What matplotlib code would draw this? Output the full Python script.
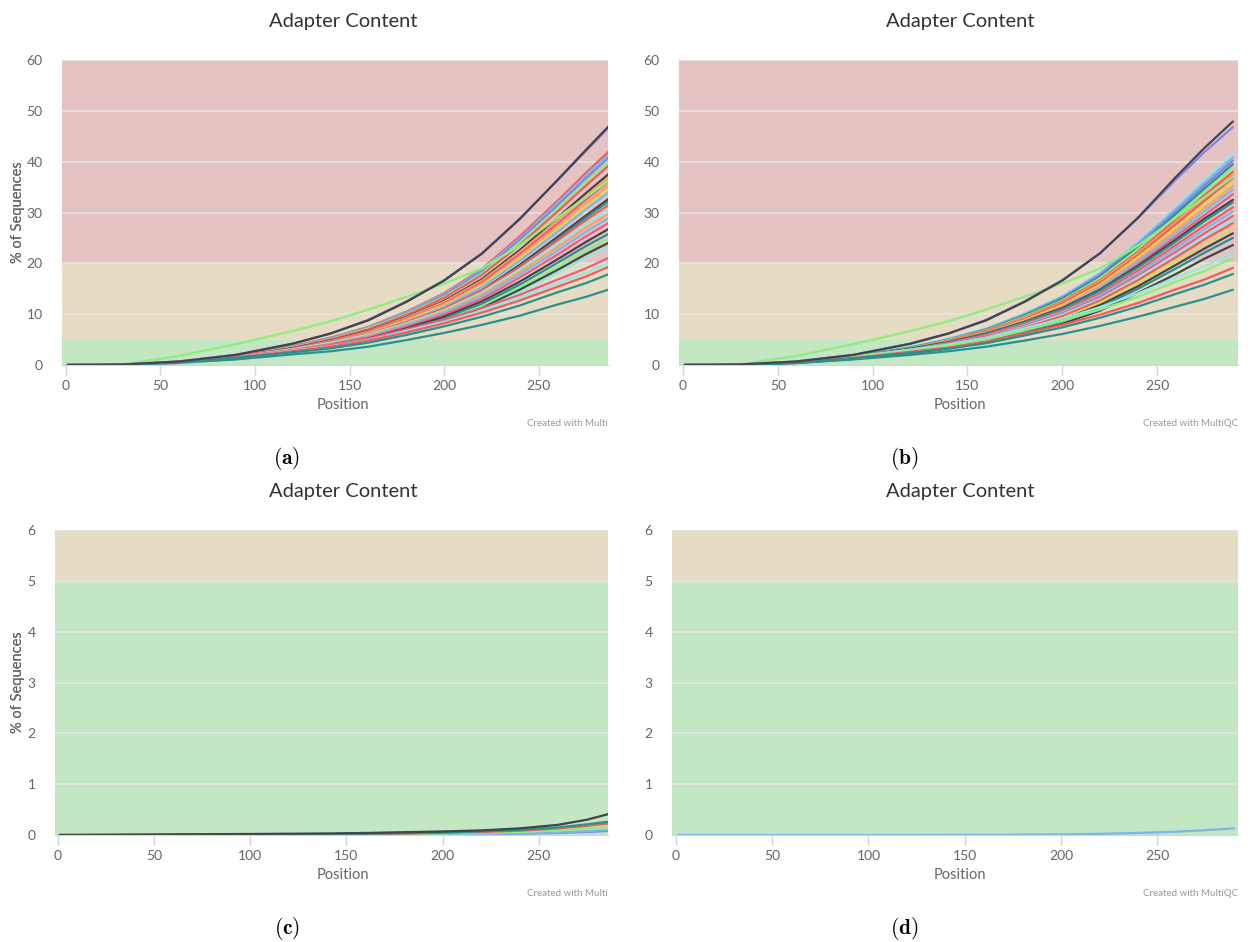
import matplotlib
matplotlib.use("Agg")
import matplotlib.pyplot as plt

plt.rcParams["font.family"] = ["Lato", "DejaVu Sans"]
plt.rcParams["mathtext.fontset"] = "cm"

BLUE = "#7cb5ec"
DARK = "#434348"
GREEN = "#90ed7d"
ORANGE = "#f7a35c"
PURPLE = "#8085e9"
PINK = "#f15c80"
YELLOW = "#e4d354"
TEAL = "#2b908f"
RED = "#f45b5b"
CYAN = "#91e8e1"

positions = [1, 30, 60, 90, 120, 140, 160, 180, 200, 220, 240, 260, 275, 290]

# panel (a) - % of sequences with adapter, one row per sample
a_colors = [RED, BLUE, PURPLE, GREEN, RED, DARK, ORANGE, PINK, ORANGE, YELLOW,
            BLUE, DARK, TEAL, RED, CYAN, ORANGE, BLUE, PINK, DARK, TEAL, GREEN,
            DARK, CYAN, PINK, CYAN, RED, TEAL, TEAL, GREEN, PURPLE, DARK]
a_values = [
    [0, 0.09, 0.6, 1.8, 3.7, 5.4, 7.5, 10.5, 14.1, 18.9, 25.3, 32.3, 37.8, 43.0],
    [0, 0.08, 0.6, 1.8, 3.6, 5.3, 7.4, 10.4, 13.9, 18.7, 24.9, 31.9, 37.3, 42.4],
    [0, 0.08, 0.6, 1.8, 3.6, 5.2, 7.3, 10.2, 13.7, 18.4, 24.6, 31.4, 36.7, 41.8],
    [0, 0.08, 0.6, 1.7, 3.5, 5.1, 7.2, 10.0, 13.4, 18.0, 24.1, 30.8, 36.0, 41.0],
    [0, 0.08, 0.6, 1.7, 3.4, 5.0, 7.0, 9.8, 13.2, 17.7, 23.6, 30.2, 35.3, 40.2],
    [0, 0.08, 0.6, 1.6, 3.3, 4.8, 6.7, 9.4, 12.6, 16.9, 22.6, 29.0, 33.8, 38.5],
    [0, 0.08, 0.6, 1.6, 3.2, 4.7, 6.6, 9.3, 12.4, 16.6, 22.2, 28.4, 33.2, 37.8],
    [0, 0.07, 0.6, 1.6, 3.1, 4.6, 6.5, 9.1, 12.1, 16.3, 21.8, 27.8, 32.5, 37.0],
    [0, 0.07, 0.5, 1.5, 3.1, 4.5, 6.3, 8.9, 11.9, 15.9, 21.3, 27.2, 31.8, 36.2],
    [0, 0.07, 0.5, 1.5, 3.0, 4.4, 6.2, 8.7, 11.6, 15.6, 20.9, 26.7, 31.2, 35.5],
    [0, 0.07, 0.5, 1.5, 3.0, 4.4, 6.1, 8.5, 11.4, 15.3, 20.5, 26.2, 30.6, 34.8],
    [0, 0.07, 0.5, 1.4, 2.8, 4.2, 5.9, 8.2, 11.0, 14.7, 19.7, 25.2, 29.4, 33.5],
    [0, 0.07, 0.5, 1.4, 2.8, 4.1, 5.8, 8.1, 10.8, 14.5, 19.4, 24.8, 29.0, 33.0],
    [0, 0.06, 0.6, 1.6, 3.2, 4.5, 6.1, 8.4, 11.1, 14.7, 19.3, 24.5, 28.5, 32.2],
    [0, 0.06, 0.6, 1.6, 3.1, 4.4, 6.0, 8.2, 10.8, 14.3, 18.8, 23.9, 27.8, 31.4],
    [0, 0.06, 0.5, 1.5, 3.0, 4.2, 5.8, 8.0, 10.5, 13.9, 18.3, 23.2, 27.0, 30.5],
    [0, 0.06, 0.5, 1.5, 2.9, 4.1, 5.6, 7.8, 10.2, 13.5, 17.8, 22.5, 26.2, 29.6],
    [0, 0.06, 0.5, 1.4, 2.8, 4.0, 5.4, 7.5, 9.9, 13.0, 17.2, 21.7, 25.3, 28.6],
    [0, 0.05, 0.5, 1.4, 2.7, 3.8, 5.2, 7.2, 9.5, 12.5, 16.4, 20.8, 24.2, 27.4],
    [0, 0.05, 0.5, 1.3, 2.6, 3.7, 5.0, 6.9, 9.1, 12.0, 15.8, 20.1, 23.4, 26.4],
    [0, 0.05, 0.5, 1.3, 2.5, 3.5, 4.8, 6.7, 8.8, 11.6, 15.2, 19.3, 22.5, 25.4],
    [0, 0.05, 0.4, 1.2, 2.4, 3.4, 4.7, 6.4, 8.5, 11.2, 14.8, 18.7, 21.8, 24.6],
    [0, 0.05, 0.4, 1.2, 2.3, 3.3, 4.5, 6.2, 8.2, 10.8, 14.3, 18.1, 21.1, 23.8],
    [0, 0.04, 0.6, 1.6, 2.9, 3.9, 5.2, 7.0, 8.9, 11.2, 13.8, 16.8, 19.0, 21.6],
    [0, 0.04, 0.6, 1.5, 2.8, 3.7, 4.9, 6.7, 8.5, 10.7, 13.2, 16.1, 18.1, 20.6],
    [0, 0.04, 0.6, 1.5, 2.7, 3.6, 4.8, 6.4, 8.2, 10.3, 12.7, 15.4, 17.4, 19.8],
    [0, 0.04, 0.5, 1.4, 2.5, 3.3, 4.4, 5.9, 7.6, 9.5, 11.7, 14.3, 16.1, 18.3],
    [0, 0.03, 0.5, 1.1, 2.1, 2.7, 3.6, 4.9, 6.3, 7.9, 9.7, 11.9, 13.4, 15.2],
    [0, 0.1, 1.8, 4.1, 6.7, 8.6, 10.9, 13.4, 16.0, 19.0, 23.5, 29.0, 33.0, 37.0],
    [0, 0.1, 0.7, 2.0, 4.2, 6.2, 8.9, 12.5, 16.7, 22.0, 28.8, 36.3, 42.1, 47.8],
    [0, 0.1, 0.7, 2.0, 4.2, 6.2, 8.8, 12.4, 16.6, 21.9, 28.7, 36.4, 42.3, 48.1],
]

# panel (b)
b_colors = [CYAN, BLUE, PURPLE, TEAL, GREEN, RED, ORANGE, RED, YELLOW, ORANGE,
            BLUE, PINK, DARK, TEAL, RED, BLUE, PINK, CYAN, RED, YELLOW, DARK,
            TEAL, DARK, CYAN, GREEN, RED, TEAL, TEAL, GREEN, PURPLE, DARK]
b_values = [
    [0, 0.08, 0.6, 1.7, 3.5, 5.2, 7.2, 10.1, 13.6, 18.2, 24.3, 31.1, 36.4, 41.4],
    [0, 0.08, 0.6, 1.7, 3.5, 5.1, 7.1, 10.0, 13.4, 18.0, 24.0, 30.7, 35.9, 40.8],
    [0, 0.08, 0.6, 1.7, 3.4, 5.0, 7.0, 9.8, 13.2, 17.7, 23.6, 30.2, 35.3, 40.2],
    [0, 0.08, 0.6, 1.7, 3.4, 4.9, 6.9, 9.7, 13.0, 17.4, 23.2, 29.7, 34.7, 39.5],
    [0, 0.08, 0.6, 1.6, 3.3, 4.9, 6.8, 9.5, 12.7, 17.1, 22.8, 29.2, 34.1, 38.8],
    [0, 0.08, 0.6, 1.6, 3.2, 4.8, 6.7, 9.3, 12.5, 16.7, 22.3, 28.6, 33.4, 38.0],
    [0, 0.07, 0.6, 1.6, 3.2, 4.7, 6.5, 9.2, 12.3, 16.5, 22.0, 28.1, 32.9, 37.4],
    [0, 0.07, 0.6, 1.5, 3.1, 4.6, 6.4, 9.0, 12.1, 16.2, 21.6, 27.7, 32.3, 36.8],
    [0, 0.07, 0.5, 1.5, 3.1, 4.5, 6.3, 8.8, 11.8, 15.8, 21.2, 27.1, 31.6, 36.0],
    [0, 0.07, 0.5, 1.5, 3.0, 4.4, 6.2, 8.6, 11.5, 15.5, 20.7, 26.5, 30.9, 35.2],
    [0, 0.07, 0.5, 1.4, 2.9, 4.3, 6.0, 8.5, 11.3, 15.2, 20.3, 25.9, 30.3, 34.5],
    [0, 0.07, 0.5, 1.4, 2.9, 4.2, 5.9, 8.2, 11.0, 14.8, 19.8, 25.3, 29.5, 33.6],
    [0, 0.07, 0.6, 1.6, 3.2, 4.5, 6.2, 8.5, 11.2, 14.8, 19.5, 24.7, 28.8, 32.5],
    [0, 0.06, 0.6, 1.6, 3.1, 4.4, 6.1, 8.4, 11.0, 14.6, 19.2, 24.3, 28.3, 32.0],
    [0, 0.06, 0.6, 1.6, 3.0, 4.3, 5.9, 8.1, 10.7, 14.1, 18.6, 23.6, 27.4, 31.0],
    [0, 0.06, 0.5, 1.5, 3.0, 4.2, 5.7, 7.9, 10.4, 13.7, 18.1, 23.0, 26.7, 30.2],
    [0, 0.06, 0.5, 1.5, 2.9, 4.1, 5.6, 7.7, 10.1, 13.3, 17.6, 22.3, 25.9, 29.3],
    [0, 0.06, 0.5, 1.4, 2.8, 4.0, 5.4, 7.5, 9.9, 13.0, 17.2, 21.7, 25.3, 28.6],
    [0, 0.06, 0.5, 1.4, 2.7, 3.9, 5.3, 7.3, 9.6, 12.7, 16.7, 21.2, 24.7, 27.9],
    [0, 0.05, 0.5, 1.3, 2.6, 3.7, 5.1, 7.0, 9.2, 12.2, 16.1, 20.4, 23.7, 26.8],
    [0, 0.05, 0.5, 1.3, 2.5, 3.6, 4.9, 6.8, 8.9, 11.8, 15.5, 19.7, 22.9, 25.9],
    [0, 0.05, 0.5, 1.3, 2.5, 3.5, 4.8, 6.6, 8.6, 11.4, 15.0, 19.0, 22.1, 25.0],
    [0, 0.05, 0.4, 1.2, 2.3, 3.3, 4.5, 6.2, 8.1, 10.7, 14.2, 17.9, 20.9, 23.6],
    [0, 0.04, 0.7, 1.7, 3.0, 4.0, 5.3, 7.2, 9.1, 11.4, 14.1, 17.2, 19.4, 22.0],
    [0, 0.04, 0.6, 1.6, 2.8, 3.8, 5.0, 6.8, 8.7, 10.9, 13.4, 16.4, 18.5, 21.0],
    [0, 0.04, 0.6, 1.4, 2.6, 3.4, 4.6, 6.2, 7.9, 9.9, 12.2, 14.9, 16.8, 19.1],
    [0, 0.04, 0.5, 1.3, 2.4, 3.2, 4.3, 5.8, 7.4, 9.3, 11.5, 14.0, 15.8, 17.9],
    [0, 0.03, 0.4, 1.1, 2.0, 2.7, 3.6, 4.8, 6.1, 7.7, 9.5, 11.5, 13.0, 14.8],
    [0, 0.1, 1.8, 4.1, 6.7, 8.6, 10.9, 13.4, 16.0, 19.0, 23.5, 29.0, 33.0, 37.0],
    [0, 0.1, 0.7, 2.0, 4.2, 6.2, 8.9, 12.5, 16.7, 22.0, 28.9, 36.5, 41.9, 46.8],
    [0, 0.1, 0.7, 2.0, 4.2, 6.2, 8.8, 12.4, 16.6, 22.0, 29.0, 37.0, 42.7, 47.9],
]

# panel (c)
c_colors = [PURPLE, BLUE, GREEN, RED, TEAL, DARK]
c_values = [
    [0, 0, 0, 0.001, 0.002, 0.004, 0.006, 0.009, 0.013, 0.018, 0.026, 0.04, 0.06, 0.085],
    [0, 0, 0, 0.002, 0.004, 0.006, 0.008, 0.011, 0.016, 0.022, 0.032, 0.05, 0.075, 0.11],
    [0, 0, 0.004, 0.008, 0.01, 0.013, 0.017, 0.023, 0.03, 0.04, 0.06, 0.09, 0.13, 0.17],
    [0, 0, 0.005, 0.01, 0.012, 0.017, 0.022, 0.03, 0.045, 0.06, 0.085, 0.13, 0.18, 0.24],
    [0, 0, 0.005, 0.01, 0.015, 0.02, 0.025, 0.035, 0.05, 0.07, 0.1, 0.15, 0.21, 0.28],
    [0, 0.005, 0.012, 0.018, 0.025, 0.03, 0.04, 0.055, 0.07, 0.09, 0.13, 0.2, 0.3, 0.45],
]

# panel (d)
d_colors = [BLUE]
d_values = [
    [0, 0, 0, 0, 0.001, 0.002, 0.004, 0.007, 0.013, 0.022, 0.04, 0.065, 0.095, 0.13],
]

W, H = 1252, 942
fig = plt.figure(figsize=(W / 100, H / 100), dpi=100)


def px(x, y):
    return x / W, 1 - y / H


def panel(rect, values, colors, ymax, ystep, xlim, letter, top, cx, created):
    l, t, r, b = rect
    ax = fig.add_axes([l / W, 1 - b / H, (r - l) / W, (b - t) / H])
    ax.axhspan(0, 5, color="#c3e6c3", lw=0, zorder=0)
    ax.axhspan(5, 20, color="#e6dcc3", lw=0, zorder=0)
    ax.axhspan(20, 100, color="#e6c3c3", lw=0, zorder=0)
    for v in range(ystep, ymax + 1, ystep):
        ax.axhline(v, color="#e6e6e6", lw=1.1, zorder=1)
    for vals, c in zip(values, colors):
        ax.plot(positions, vals, color=c, lw=1.6, zorder=2,
                solid_capstyle="round", solid_joinstyle="round")
    ax.set_xlim(*xlim)
    ax.set_ylim(0, ymax)
    ax.set_xticks([0, 50, 100, 150, 200, 250])
    ax.set_yticks(range(0, ymax + 1, ystep))
    for s in ["top", "right", "left"]:
        ax.spines[s].set_visible(False)
    ax.spines["bottom"].set_color("#ccd6eb")
    ax.tick_params(axis="x", colors="#ccd6eb", length=7, width=1, pad=4,
                   labelcolor="#666666", labelsize=10)
    ax.tick_params(axis="y", length=0, pad=14, labelcolor="#666666",
                   labelsize=10)
    ax.set_ylabel("% of Sequences", color="#666666", fontsize=10.5)
    ax.yaxis.set_label_coords((25 - l) / (r - l), 0.5)
    fig.text(*px(cx, top + 22), "Adapter Content", ha="center", va="center",
             fontsize=14.5, color="#333333")
    fig.text(*px(cx, top + 405), "Position", ha="center", va="center",
             fontsize=10.5, color="#666666")
    fig.text(*px(r, top + 423), created, ha="right", va="center",
             fontsize=7, color="#999999")
    fig.text(*px(cx - 56, top + 459), r"$\mathbf{(" + letter + ")}$",
             ha="center", va="center", fontsize=15.5, color="black")
    return ax


panel((62, 60, 608, 365), a_values, a_colors, 60, 10, (-2.1, 286.7), "a",
      0, 343, "Created with Multi")
panel((679, 60, 1238, 365), b_values, b_colors, 60, 10, (-2.1, 292.7), "b",
      0, 960, "Created with MultiQC")
panel((55, 530, 608, 835), c_values, c_colors, 6, 1, (-1.5, 286), "c",
      470, 343, "Created with Multi")
panel((672, 530, 1238, 835), d_values, d_colors, 6, 1, (-2.1, 292), "d",
      470, 960, "Created with MultiQC")

fig.savefig("out.png", dpi=100)
